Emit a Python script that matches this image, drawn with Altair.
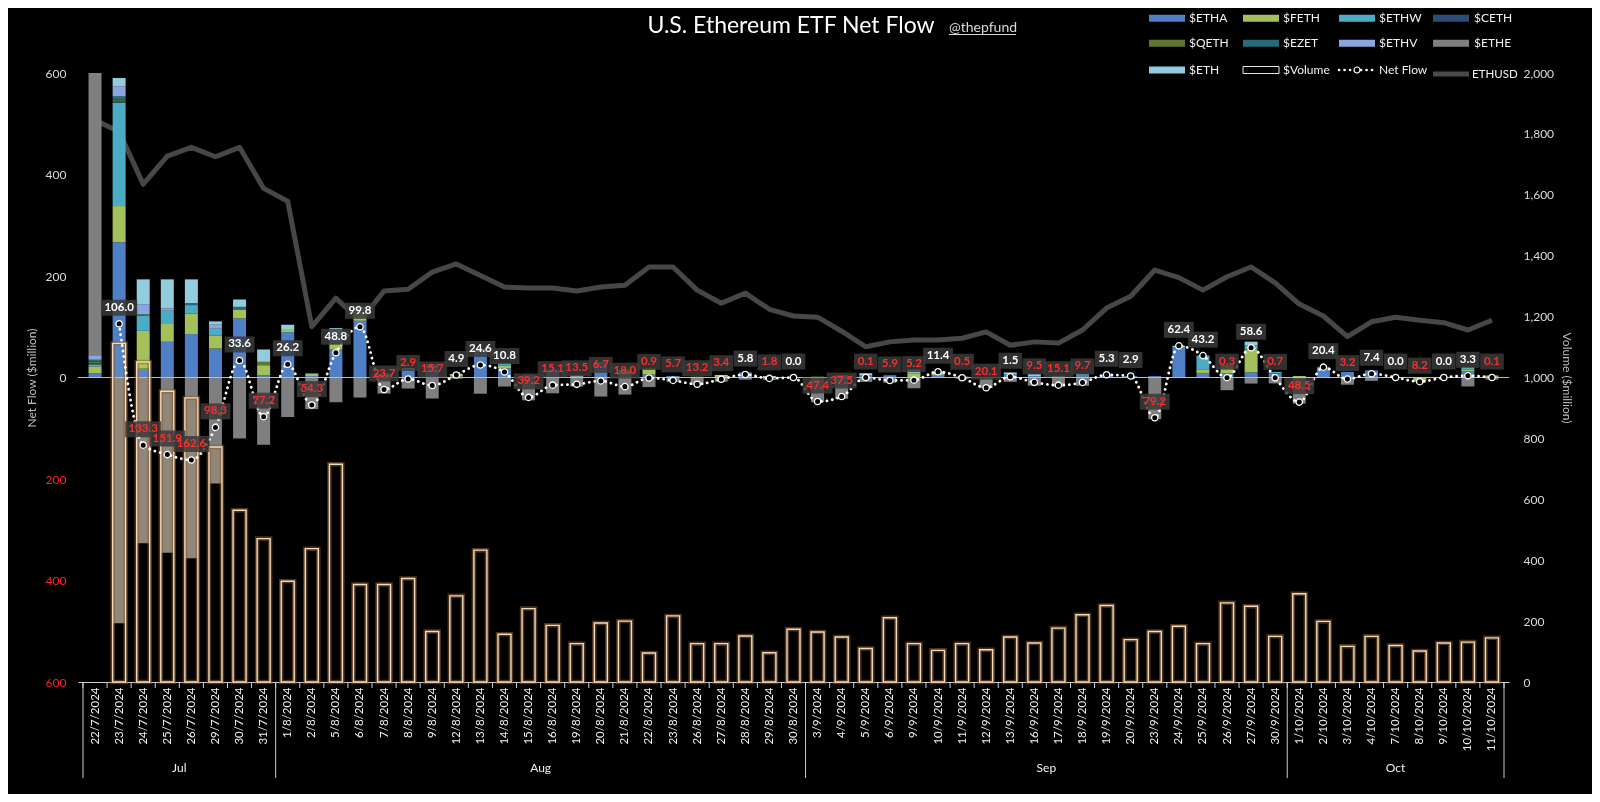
import altair as alt
import pandas as pd

# ---------------- data ----------------
dates = ["22/7/2024","23/7/2024","24/7/2024","25/7/2024","26/7/2024","29/7/2024","30/7/2024","31/7/2024",
 "1/8/2024","2/8/2024","5/8/2024","6/8/2024","7/8/2024","8/8/2024","9/8/2024","12/8/2024","13/8/2024","14/8/2024",
 "15/8/2024","16/8/2024","19/8/2024","20/8/2024","21/8/2024","22/8/2024","23/8/2024","26/8/2024","27/8/2024",
 "28/8/2024","29/8/2024","30/8/2024",
 "3/9/2024","4/9/2024","5/9/2024","6/9/2024","9/9/2024","10/9/2024","11/9/2024","12/9/2024","13/9/2024",
 "16/9/2024","17/9/2024","18/9/2024","19/9/2024","20/9/2024","23/9/2024","24/9/2024","25/9/2024","26/9/2024",
 "27/9/2024","30/9/2024",
 "1/10/2024","2/10/2024","3/10/2024","4/10/2024","7/10/2024","8/10/2024","9/10/2024","10/10/2024","11/10/2024"]

months = ["Jul", "Aug", "Sep", "Oct"]
month_centers = [3.5, 18.5, 39.5, 54.0]
month_bounds = [-0.5, 7.5, 29.5, 49.5, 58.5]

funds = ["$ETHA", "$FETH", "$ETHW", "$CETH", "$QETH", "$EZET", "$ETHV", "$ETHE", "$ETH"]
fund_colors = ["#4f7fc4", "#a3c05a", "#4bacc6", "#2c4d75", "#5f7530", "#276a7c", "#8aa6dc", "#7f7f7f", "#93cddd"]

ETHA = [8, 266.5, 17.4, 70.4, 85.5, 57.0, 116.4, 4.6,
        89.5, 3.0, 55.0, 112.0, 3.0, 14.0, 18.0, 2.0, 50.0, 18.0, 5.8, 16.0, 0, 25.0, 5.6, 6.0, 3.0, 0, 0, 10.0, 0, 0,
        0, 0, 4.0, 4.5, 0, 5.0, 2.0, 0.9, 6.0, 3.0, 0, 5.0, 5.3, 2.9, 2.8, 59.3, 9.0, 8.0, 10.0, 8.0,
        0, 20.4, 11.0, 14.0, 0, 0, 0, 12.0, 0]
FETH = [14, 71.3, 74.5, 35.0, 40.8, 26.0, 17.8, 19.7,
        6.0, 5.0, 12.0, 18.0, 5.0, 0, 0, 5.0, 0, 5.0, 0, 0, 0, 0, 10.0, 12.0, 0, 1.5, 3.0, 0, 0, 0,
        1.5, 4.5, 0, 0, 8.0, 4.0, 0, 0, 0, 0, 0, 0, 0, 0, 0, 0, 6.0, 16.7, 45.0, 0,
        3.0, 0, 0, 0, 0, -8.2, 0, 4.0, 4.0]
ETHW = [4, 204.2, 29.6, 26.0, 16.4, 13.0, 0, 0,
        0, 0, 14.0, 5.0, 0, 0, 0, 0, 0, 5.6, 0, 0, 0, 5.8, 0, 0, 0, 0, 0, 0, 0, 0,
        0, 0, 0, 0, 0, 0, 0, 0, 0, 0, 0, 0, 0, 0, 0, 0, 28.2, 0, 8.0, 3.0,
        0, 0, 0, 0, 0, 0, 0, 5.0, 0]
CETH = [2, 3.0, 0, 0, 0, 0, 0, 0] + [0] * 51
QETH = [3, 3.0, 3.0, 0, 0, 0, 0, 6.6] + [0] * 51
EZET = [4, 6.0, 0, 0, 4.0, 0, 5.0, 0] + [0] * 51
ETHV = [9, 20.0, 20.0, 4.6, 0, 8.0, 0, 0] + [0] * 51
ETHE = [570, -484.1, -326.7, -345.3, -356.0, -208.9, -120.1, -132.4,
        -77.8, -62.3, -48.7, -39.5, -31.7, -21.7, -41.4, -2.1, -32.0, -17.8, -45.0, -31.1, -18.0, -37.5, -33.6,
        -18.9, -8.7, -14.7, -8.4, -4.2, -4.8, 0,
        -48.9, -42.0, -8.6, -10.4, -21.2, 0, -2.5, -21.0, -8.5, -16.1, -18.1, -16.3, 0, 0, -82.0, 0, 0, -25.0,
        -12.0, -11.7,
        -51.5, 0, -14.2, -6.6, 0, 0, 0, -17.7, -4.1]
ETH = [0, 16.1, 48.9, 57.4, 46.7, 6.6, 14.5, 24.3,
       8.5, 0, 16.5, 4.3, 0, 4.8, 7.7, 0, 6.6, 0, 0, 0, 4.5, 0, 0, 0, 0, 0, 2.0, 0, 3.0, 0,
       0, 0, 4.5, 0, 8.0, 2.4, 0, 0, 4.0, 3.6, 3.0, 1.6, 0, 0, 0, 3.1, 0, 0, 7.6, 0,
       0, 0, 0, 0, 0, 0, 0, 0, 0]
fund_series = [ETHA, FETH, ETHW, CETH, QETH, EZET, ETHV, ETHE, ETH]

net_flow = [None, 106.0, -133.3, -151.9, -162.6, -98.3, 33.6, -77.2,
            26.2, -54.3, 48.8, 99.8, -23.7, -2.9, -15.7, 4.9, 24.6, 10.8, -39.2, -15.1, -13.5, -6.7, -18.0,
            -0.9, -5.7, -13.2, -3.4, 5.8, -1.8, 0.0,
            -47.4, -37.5, -0.1, -5.9, -5.2, 11.4, -0.5, -20.1, 1.5, -9.5, -15.1, -9.7, 5.3, 2.9, -79.2, 62.4,
            43.2, -0.3, 58.6, -0.7,
            -48.5, 20.4, -3.2, 7.4, 0.0, -8.2, 0.0, 3.3, -0.1]

volume = [None, 1112, 1051, 955, 933, 772, 564, 471,
          331, 438, 715, 320, 320, 340, 166, 283, 433, 157, 241, 186, 126, 194, 200, 95, 217, 126, 126, 151, 96, 173,
          164, 148, 110, 211, 126, 104, 126, 106, 148, 128, 177, 221, 251, 139, 166, 183, 126, 260, 249, 150,
          290, 199, 117, 150, 120, 102, 128, 131, 145]

ethusd = [3691, 3614, 3270, 3454, 3512, 3450, 3512, 3242,
          3158, 2334, 2522, 2370, 2568, 2580, 2692, 2746, 2670, 2594, 2588, 2588, 2568, 2594, 2606, 2726, 2726,
          2574, 2488, 2554, 2448, 2404,
          2396, 2304, 2202, 2234, 2246, 2246, 2258, 2300, 2212, 2234, 2226, 2312, 2456, 2534, 2706, 2656, 2574,
          2662, 2726, 2622,
          2482, 2404, 2268, 2366, 2396, 2376, 2360, 2312, 2376]

# ---------------- tables ----------------
rows = []
for k, (f, arr) in enumerate(zip(funds, fund_series)):
    for i, v in enumerate(arr):
        if v != 0:
            rows.append({"idx": i, "fund": f, "v": v, "ord": k})
flows_df = pd.DataFrame(rows)

nf_rows = []
for i, v in enumerate(net_flow):
    if v is None:
        continue
    lab = f"{abs(v):.1f}"
    w = 6.3 * (len(lab) - 1) + 3 + 8
    hw, hh = w / 10.0, 1.6
    path = f"M{-hw:.2f},{-hh}L{hw:.2f},{-hh}L{hw:.2f},{hh}L{-hw:.2f},{hh}Z"
    nf_rows.append({"idx": i, "net": v, "lab": lab,
                    "tcol": "#ff2d2d" if v < 0 else "#ffffff", "path": path})
nf_df = pd.DataFrame(nf_rows)

vol_df = pd.DataFrame({"idx": list(range(len(dates))), "volume": volume}).dropna()
eth_df = pd.DataFrame({"idx": list(range(len(dates))), "ethusd": ethusd})
tick_df = pd.DataFrame({"idx": [i - 0.5 for i in range(len(dates) + 1)]})
sep_df = pd.DataFrame({"idx": month_bounds})
mon_df = pd.DataFrame({"idx": month_centers, "m": months})
one = pd.DataFrame({"k": [0]})

# ---------------- layout ----------------
W, H = 1431, 609
FONT = "Lato"

label_expr = "[" + ",".join(f"'{d}'" for d in dates) + "][datum.value]"
xs = alt.Scale(domain=[-0.5, len(dates) - 0.5], nice=False, zero=False)
xaxis = alt.Axis(values=list(range(len(dates))), labelExpr=label_expr, labelAngle=270, tickSize=0,
                 domainColor="#cfcfcf", domainWidth=1, labelColor="#f2f2f2", labelFont=FONT,
                 labelFontSize=11.5, labelPadding=5, grid=False, title=None, labelOverlap=False,
                 labelFlush=False)


def X():
    return alt.X("idx:Q", scale=xs, axis=xaxis)


ly = alt.Scale(domain=[-600, 600], nice=False, zero=False)
left_axis = alt.Axis(values=[-600, -400, -200, 0, 200, 400, 600],
                     labelExpr="format(abs(datum.value), 'd')",
                     labelColor={"condition": {"test": "datum.value < 0", "value": "#ff2020"}, "value": "#d9d9d9"},
                     labelFont=FONT, labelFontSize=12, labelPadding=12, tickSize=0, domain=False, grid=False,
                     title="Net Flow ($million)", titleColor="#bfbfbf", titleFont=FONT, titleFontSize=12,
                     titleFontWeight="normal", titlePadding=7)
rs = alt.Scale(domain=[0, 2000], nice=False)
right_axis = alt.Axis(orient="right", values=list(range(0, 2001, 200)), format=",.0f", tickSize=0, domain=False,
                      grid=False, labelPadding=14, labelColor="#d9d9d9", labelFont=FONT, labelFontSize=12,
                      title="Volume ($million)", titleColor="#bfbfbf", titleFont=FONT, titleFontSize=12,
                      titleFontWeight="normal", titlePadding=6)

eth_line = alt.Chart(eth_df).mark_line(color="#474747", strokeWidth=5, strokeJoin="round").encode(
    x=X(), y=alt.Y("ethusd:Q", scale=alt.Scale(domain=[0, 4000], nice=False), axis=None))

bars = alt.Chart(flows_df).mark_bar(size=13, clip=True).encode(
    x=X(),
    y=alt.Y("v:Q", stack="zero", scale=ly, axis=left_axis),
    color=alt.Color("fund:N", scale=alt.Scale(domain=funds, range=fund_colors), legend=None),
    order=alt.Order("ord:Q"))

zero_rule = alt.Chart(one).mark_rule(color="#bdbdbd", strokeWidth=1).encode(
    x=alt.value(0), x2=alt.value(W), y=alt.value(H / 2))

vol_fill = alt.Chart(vol_df).mark_bar(size=13, color="#918779", blend="overlay").encode(
    x=X(), y=alt.Y("volume:Q", scale=rs, axis=right_axis))
vol_glow = alt.Chart(vol_df).mark_bar(size=13, fillOpacity=0, stroke="#8c5a2b", strokeWidth=4.5,
                                      strokeOpacity=0.55).encode(
    x=X(), y=alt.Y("volume:Q", scale=rs, axis=None))
vol_edge = alt.Chart(vol_df).mark_bar(size=13, fillOpacity=0, stroke="#efdcc0", strokeWidth=1.4).encode(
    x=X(), y=alt.Y("volume:Q", scale=rs, axis=None))

nf_line = alt.Chart(nf_df).mark_line(color="white", strokeWidth=2.8, strokeDash=[0.1, 5.4], strokeCap="round",
                                     interpolate="monotone").encode(
    x=X(), y=alt.Y("net:Q", scale=ly, axis=None))
nf_box = alt.Chart(nf_df).mark_point(size=100, filled=True, fill="#3a3a3a", opacity=0.85, strokeWidth=0,
                                     yOffset=-16).encode(
    x=X(), y=alt.Y("net:Q", scale=ly, axis=None), shape=alt.Shape("path:N", scale=None))
nf_pts = alt.Chart(nf_df).mark_point(shape="circle", size=40, filled=True, fill="black", stroke="white",
                                     strokeWidth=1.3, opacity=1).encode(
    x=X(), y=alt.Y("net:Q", scale=ly, axis=None))
nf_txt = alt.Chart(nf_df).mark_text(font=FONT, fontSize=11.5, fontWeight="bold", yOffset=-16,
                                    baseline="middle").encode(
    x=X(), y=alt.Y("net:Q", scale=ly, axis=None), text="lab:N", color=alt.Color("tcol:N", scale=None))

ticks = alt.Chart(tick_df).mark_rule(color="#cfcfcf", strokeWidth=1).encode(
    x=X(), y=alt.value(H), y2=alt.value(H + 6))
seps = alt.Chart(sep_df).mark_rule(color="#cfcfcf", strokeWidth=1).encode(
    x=X(), y=alt.value(H), y2=alt.value(H + 96))
mon_txt = alt.Chart(mon_df).mark_text(font=FONT, fontSize=12, color="#f2f2f2", baseline="middle").encode(
    x=X(), y=alt.value(H + 86), text="m:N")


def vtext(txt, x, y, size=12, color="#f2f2f2", align="left", weight="normal"):
    return alt.Chart(one).mark_text(text=txt, font=FONT, fontSize=size, color=color, align=align,
                                    baseline="middle", fontWeight=weight).encode(x=alt.value(x), y=alt.value(y))


decor = [
    vtext("U.S. Ethereum ETF Net Flow", 713, -47.5, size=23, color="#ffffff", align="center"),
    vtext("@thepfund", 871, -45.5, size=14, color="#d9d9d9"),
    alt.Chart(one).mark_rule(color="#d9d9d9", strokeWidth=1).encode(
        x=alt.value(871), x2=alt.value(938), y=alt.value(-38.5)),
]

sw_cols = [(1071, 1107), (1165, 1201), (1261, 1297), (1355, 1391)]
tx_cols = [1111, 1205, 1301, 1396]
rows_y = [-54.7, -29.7, -3]
for n, (f, c) in enumerate(zip(funds, fund_colors)):
    r, col = divmod(n, 4)
    a, b = sw_cols[col]
    y = rows_y[r]
    decor.append(alt.Chart(one).mark_rect(color=c).encode(
        x=alt.value(a), x2=alt.value(b), y=alt.value(y - 3.5), y2=alt.value(y + 3.5)))
    decor.append(vtext(f, tx_cols[col], y))
# $Volume
a, b = sw_cols[1]
decor.append(alt.Chart(one).mark_rect(fill="black", stroke="#e8e8e8", strokeWidth=1).encode(
    x=alt.value(a), x2=alt.value(b), y=alt.value(rows_y[2] - 3.5), y2=alt.value(rows_y[2] + 3.5)))
decor.append(vtext("$Volume", tx_cols[1], rows_y[2]))
# Net Flow
a, b = sw_cols[2]
decor.append(alt.Chart(one).mark_rule(color="white", strokeWidth=2.6, strokeDash=[0.1, 5.4],
                                      strokeCap="round").encode(
    x=alt.value(a), x2=alt.value(b), y=alt.value(rows_y[2])))
decor.append(alt.Chart(one).mark_point(shape="circle", size=36, filled=True, fill="black", stroke="white",
                                       strokeWidth=1.2, opacity=1).encode(
    x=alt.value((a + b) / 2), y=alt.value(rows_y[2])))
decor.append(vtext("Net Flow", tx_cols[2], rows_y[2]))
# ETHUSD
a, b = sw_cols[3]
decor.append(alt.Chart(one).mark_rule(color="#4a4a4a", strokeWidth=5).encode(
    x=alt.value(a), x2=alt.value(b), y=alt.value(rows_y[2] + 4)))
decor.append(vtext("ETHUSD", tx_cols[3] - 2, rows_y[2] + 5, size=11.5))

chart = alt.layer(
    eth_line, bars, zero_rule, vol_fill, vol_glow, vol_edge,
    nf_line, nf_box, nf_pts, nf_txt, ticks, seps, mon_txt, *decor
).resolve_scale(y="independent", color="independent").properties(
    width=W, height=H,
    autosize=alt.AutoSizeParams(type="none"),
    padding={"left": 70, "top": 65, "right": 83, "bottom": 112},
).configure(background="black").configure_view(strokeWidth=0)

chart.save("out.html", embed_options={"renderer": "svg", "actions": False})
